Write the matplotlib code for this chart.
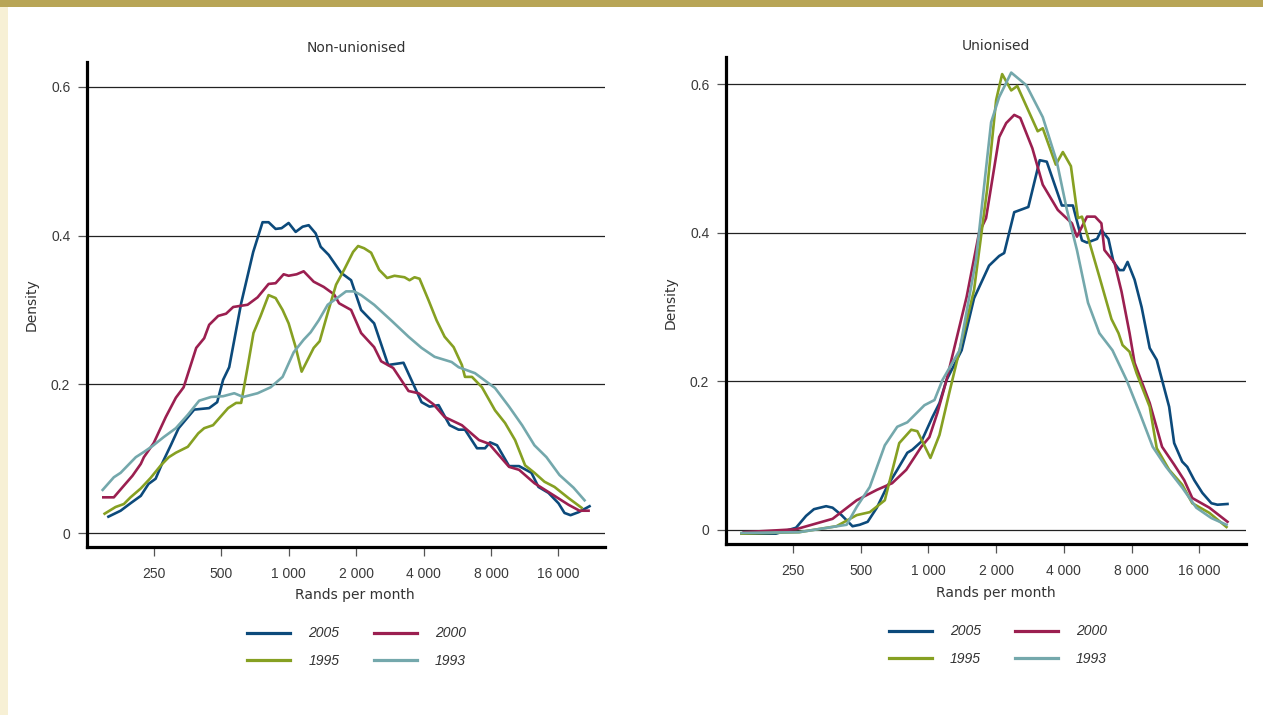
import matplotlib.pyplot as plt
from matplotlib.lines import Line2D
from matplotlib.patches import Rectangle

# ----------------------------------------
# Data (x in rands per month, y = density)
# ----------------------------------------
years = ['2005', '2000', '1995', '1993']
colours = {'2005': '#0c4a7b', '2000': '#9b1f50', '1995': '#86a022', '1993': '#74a8ac'}

# Non-unionised
non_2005_x = [157, 178, 197, 219, 237, 255, 274, 298, 323, 379, 442, 480, 510, 543, 614,
              695, 765, 814, 875, 930, 1000, 1075, 1155, 1229, 1320, 1390, 1510, 1714, 1900, 2106,
              2407, 2781, 3255, 3918, 4255, 4668, 5228, 5736, 6121, 6926, 7521, 7918, 8510, 9629, 10674,
              12116, 13022, 14435, 16000, 17019, 18104, 19659, 22008]
non_2005_y = [.022, .030, .040, .050, .066, .073, .095, .118, .141, .166, .168, .176, .206, .223, .309,
              .378, .418, .418, .409, .410, .417, .405, .412, .414, .403, .385, .374, .350, .340, .300,
              .282, .226, .229, .176, .170, .172, .145, .139, .139, .114, .114, .122, .118, .090, .090,
              .081, .062, .054, .040, .027, .024, .028, .036]

non_2000_x = [149, 166, 182, 201, 219, 226, 250, 283, 314, 340, 387, 420, 442, 485, 526,
              566, 656, 727, 814, 875, 950, 1000, 1086, 1167, 1294, 1434, 1595, 1679, 1900, 2106,
              2407, 2587, 2928, 3428, 3800, 4434, 4966, 5930, 7070, 7837, 9629, 10674, 12496, 15355, 17734,
              19862, 21792]
non_2000_y = [.048, .048, .062, .077, .093, .102, .121, .156, .182, .196, .249, .262, .280, .292, .295,
              .304, .307, .317, .335, .336, .348, .346, .348, .352, .338, .331, .321, .309, .300, .269,
              .250, .231, .222, .191, .188, .173, .156, .145, .125, .120, .089, .085, .067, .050, .038,
              .030, .030]

non_1995_x = [151, 169, 184, 197, 219, 242, 269, 292, 314, 355, 395, 420, 460, 537, 583,
              614, 656, 697, 750, 814, 875, 940, 1000, 1075, 1143, 1216, 1294, 1376, 1494, 1628,
              1768, 1939, 2042, 2172, 2334, 2535, 2752, 2967, 3289, 3463, 3646, 3839, 4211, 4573, 4966,
              5448, 5930, 6121, 6578, 7292, 8336, 9241, 10243, 11354, 12496, 13852, 15355, 17734, 20277]
non_1995_y = [.026, .035, .039, .048, .060, .074, .091, .102, .108, .116, .134, .141, .145, .168, .175,
              .175, .223, .269, .292, .320, .316, .300, .282, .250, .217, .233, .249, .258, .296, .334,
              .354, .378, .386, .383, .377, .354, .343, .346, .344, .340, .344, .342, .313, .286, .264,
              .250, .226, .210, .210, .196, .165, .148, .125, .091, .081, .069, .062, .047, .034]

non_1993_x = [148, 166, 178, 208, 226, 247, 277, 314, 355, 399, 451, 510, 572, 627, 727,
              831, 940, 1053, 1167, 1254, 1362, 1494, 1662, 1804, 1959, 2106, 2407, 2868, 3428, 3918,
              4480, 5337, 5736, 6783, 8336, 9629, 11009, 12496, 14141, 16166, 18672, 20912]
non_1993_y = [.058, .075, .081, .102, .109, .117, .129, .141, .159, .178, .183, .184, .188, .183, .188,
              .196, .210, .243, .260, .270, .286, .307, .317, .325, .325, .320, .307, .286, .264, .249,
              .237, .230, .223, .215, .195, .170, .145, .118, .102, .078, .061, .044]

# Unionised
uni_2005_x = [148, 210, 258, 286, 310, 351, 375, 411, 460, 495, 537, 590, 654, 727, 806,
              848, 930, 1042, 1120, 1204, 1405, 1595, 1861, 2063, 2172, 2407, 2781, 3124, 3358, 3918,
              4388, 4814, 5069, 5619, 5874, 6313, 6647, 7070, 7368, 7678, 8251, 8867, 9629, 10349, 11747,
              12369, 13431, 14141, 15198, 16502, 18104, 19258, 21347]
uni_2005_y = [-.005, -.005, .003, .019, .028, .032, .030, .020, .005, .007, .011, .030, .058, .081, .104,
              .108, .119, .152, .171, .202, .242, .312, .356, .369, .373, .428, .435, .498, .496, .437,
              .437, .390, .387, .392, .404, .392, .361, .350, .350, .361, .337, .300, .245, .229, .166,
              .117, .092, .085, .067, .050, .036, .034, .035]

uni_2000_x = [151, 258, 375, 480, 590, 690, 797, 930, 1010, 1097, 1204, 1479, 1679, 1804, 2063,
              2217, 2407, 2561, 2898, 3223, 3760, 4343, 4573, 5069, 5504, 5874, 6058, 6715, 7218, 7837,
              8251, 9629, 10928, 12369, 13710, 14888, 17734, 21347]
uni_2000_y = [-.003, .001, .015, .040, .054, .063, .081, .112, .125, .158, .202, .314, .400, .420, .529,
              .548, .559, .555, .514, .465, .431, .413, .395, .422, .422, .413, .377, .360, .321, .265,
              .225, .171, .112, .088, .067, .043, .030, .011]

uni_1995_x = [148, 266, 390, 480, 549, 640, 742, 839, 893, 1021, 1120, 1241, 1595, 1823, 2000,
              2127, 2334, 2483, 3060, 3223, 3684, 3959, 4299, 4620, 4814, 5754, 6511, 6998, 7292, 7837,
              8423, 9629, 10349, 11747, 13431, 14888, 17734, 21130]
uni_1995_y = [-.005, -.003, .005, .020, .024, .040, .117, .135, .133, .097, .128, .186, .323, .458, .579,
              .614, .592, .598, .537, .541, .492, .509, .490, .420, .422, .341, .284, .265, .249, .240,
              .211, .166, .110, .081, .061, .036, .023, .004]

uni_1993_x = [148, 266, 433, 480, 549, 640, 727, 806, 960, 1064, 1155, 1376, 1628, 1900, 2063,
              2334, 2724, 3223, 3722, 4127, 4573, 5122, 5754, 6578, 7598, 8686, 9929, 11389, 13431, 15513,
              18104, 21130]
uni_1993_y = [-.004, -.003, .007, .031, .058, .114, .139, .145, .168, .175, .202, .242, .364, .549, .583,
              .616, .599, .556, .496, .431, .377, .306, .265, .242, .202, .158, .112, .085, .057, .030,
              .016, .007]

x_ticks = [250, 500, 1000, 2000, 4000, 8000, 16000]
x_tick_labels = ['250', '500', '1 000', '2 000', '4 000', '8 000', '16 000']
y_ticks = [0, 0.2, 0.4, 0.6]
y_tick_labels = ['0', '0.2', '0.4', '0.6']

panels = [
    ('Non-unionised', {'2005': (non_2005_x, non_2005_y), '2000': (non_2000_x, non_2000_y),
                       '1995': (non_1995_x, non_1995_y), '1993': (non_1993_x, non_1993_y)}),
    ('Unionised', {'2005': (uni_2005_x, uni_2005_y), '2000': (uni_2000_x, uni_2000_y),
                   '1995': (uni_1995_x, uni_1995_y), '1993': (uni_1993_x, uni_1993_y)}),
]

# ----------------------------------------
# Figure layout (pixel positions of the reference)
# ----------------------------------------
W, H = 1263, 715
fig = plt.figure(figsize=(W / 100, H / 100), dpi=100)
fig.patch.set_facecolor('white')

# decorative page bands
fig.patches.append(Rectangle((0, 1 - 7 / H), 1, 7 / H, transform=fig.transFigure,
                             facecolor='#b8a556', edgecolor='none', zorder=0))
fig.patches.append(Rectangle((0, 0), 8 / W, 1 - 7 / H, transform=fig.transFigure,
                             facecolor='#f7f0d5', edgecolor='none', zorder=0))

# left, right, bottom spine, top spine, y-limits, title x, label x, legend centre
layout = [
    dict(l=87, r=605, b=547, t=62, ylim=(-0.0188, 0.6335), title=(356, 48),
         ylab=(32, 305), xlab=(355, 595), leg=(356.5, 647)),
    dict(l=726, r=1246, b=544, t=57, ylim=(-0.0189, 0.637), title=(996, 46),
         ylab=(671, 303), xlab=(996, 593), leg=(998, 645)),
]

label_font = dict(family='DejaVu Sans', size=10, color='#333333')
tick_font = 'Liberation Sans'

for (title, series), lay in zip(panels, layout):
    ax = fig.add_axes([lay['l'] / W, 1 - lay['b'] / H,
                       (lay['r'] - lay['l']) / W, (lay['b'] - lay['t']) / H])
    for yr in years:
        xs, ys = series[yr]
        ax.plot(xs, ys, color=colours[yr], lw=1.9, solid_joinstyle='round', zorder=3)

    ax.set_xscale('log', base=2)
    ax.set_xlim(126, 25800)
    ax.set_ylim(*lay['ylim'])
    ax.set_xticks(x_ticks)
    ax.set_xticklabels(x_tick_labels)
    ax.minorticks_off()
    ax.set_yticks(y_ticks)
    ax.set_yticklabels(y_tick_labels)

    ax.grid(axis='y', color='#222222', lw=0.9, zorder=1)
    for side in ['top', 'right']:
        ax.spines[side].set_visible(False)
    for side in ['left', 'bottom']:
        ax.spines[side].set_linewidth(2.3)
        ax.spines[side].set_color('black')

    ax.tick_params(axis='both', direction='out', length=6.5, width=0.9, color='#555555',
                   labelsize=10, labelcolor='#3a3a3a')
    ax.tick_params(axis='x', pad=8)
    ax.tick_params(axis='y', pad=5.5)
    for lbl in ax.get_xticklabels() + ax.get_yticklabels():
        lbl.set_family(tick_font)

    fig.text(lay['title'][0] / W, 1 - lay['title'][1] / H, title,
             ha='center', va='center', **label_font)
    fig.text(lay['ylab'][0] / W, 1 - lay['ylab'][1] / H, 'Density', rotation=90,
             ha='center', va='center', **label_font)
    fig.text(lay['xlab'][0] / W, 1 - lay['xlab'][1] / H, 'Rands per month',
             ha='center', va='center', **label_font)

    # legend: row 1 -> 2005, 2000 ; row 2 -> 1995, 1993
    order = ['2005', '1995', '2000', '1993']
    handles = [Line2D([], [], color=colours[yr], lw=2.3) for yr in order]
    ax.legend(handles, order, ncol=2, loc='center', frameon=False,
              bbox_to_anchor=(lay['leg'][0] / W, 1 - lay['leg'][1] / H),
              bbox_transform=fig.transFigure,
              prop=dict(family=tick_font, style='italic', size=10),
              labelcolor='#333333', handlelength=3.1, handletextpad=1.3,
              columnspacing=2.45, labelspacing=0.95)

plt.savefig('out.png', dpi=100)
